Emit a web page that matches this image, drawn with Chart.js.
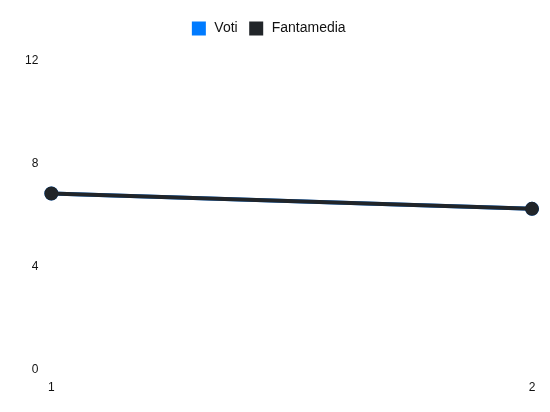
<!DOCTYPE html>
<html>
<head>
<meta charset="utf-8">
<script src="https://cdn.jsdelivr.net/npm/chart.js@4"></script>
<style>
  html, body { margin: 0; padding: 0; background: #fff; }
  #wrap { width: 550px; height: 412px; }
</style>
</head>
<body>
<div id="wrap"><canvas id="voti-chart"></canvas></div>
<script>
var giornate = ['1', '2'];
var voti = [6.85, 6.25];
var fantamedia = [6.85, 6.25];
var yTicks = [0, 4, 8, 12];

var canvas = document.getElementById('voti-chart');

// extra room under the legend, and legend nudged a bit to the left
var legendTweak = {
    id: 'legendTweak',
    beforeInit: function (chart) {
        var fit = chart.legend.fit;
        chart.legend.fit = function () {
            fit.call(this);
            this.height += 14;
        };
    },
    afterLayout: function (chart) {
        chart.legend.left -= 8;
        chart.legend.right -= 8;
    }
};

new Chart(canvas, {
    type: 'line',
    data: {
        labels: giornate,
        datasets: [{
            label: 'Voti',
            data: voti,
            borderColor: '#007bff',
            backgroundColor: '#007bff',
            borderWidth: 4,
            pointRadius: 5,
            order: 2,
            fill: false
        }, {
            label: 'Fantamedia',
            data: fantamedia,
            borderColor: '#212529',
            backgroundColor: '#212529',
            borderWidth: 4,
            pointRadius: 5,
            order: 1,
            fill: false
        }]
    },
    options: {
        responsive: true,
        maintainAspectRatio: false,
        animation: false,
        layout: {
            padding: { left: 20, right: 18, top: 10, bottom: 14 }
        },
        scales: {
            x: {
                grid: { display: false },
                border: { display: false },
                ticks: { color: '#111', font: { size: 12 } }
            },
            y: {
                min: 0,
                max: 12,
                afterBuildTicks: function (axis) {
                    axis.ticks = yTicks.map(function (v) { return { value: v }; });
                },
                grid: { display: false },
                border: { display: false },
                ticks: { color: '#111', font: { size: 12 }, padding: 5 }
            }
        },
        plugins: {
            legend: {
                position: 'top',
                labels: {
                    color: '#111',
                    boxWidth: 17,
                    boxHeight: 17,
                    padding: 10,
                    font: { size: 14 },
                    sort: function (a, b) { return a.datasetIndex - b.datasetIndex; },
                    generateLabels: function (chart) {
                        var items = Chart.defaults.plugins.legend.labels.generateLabels(chart);
                        items.forEach(function (item) {
                            item.lineWidth = 3;
                            item.strokeStyle = '#fff';
                        });
                        return items;
                    }
                }
            }
        }
    },
    plugins: [legendTweak]
});
</script>
</body>
</html>
